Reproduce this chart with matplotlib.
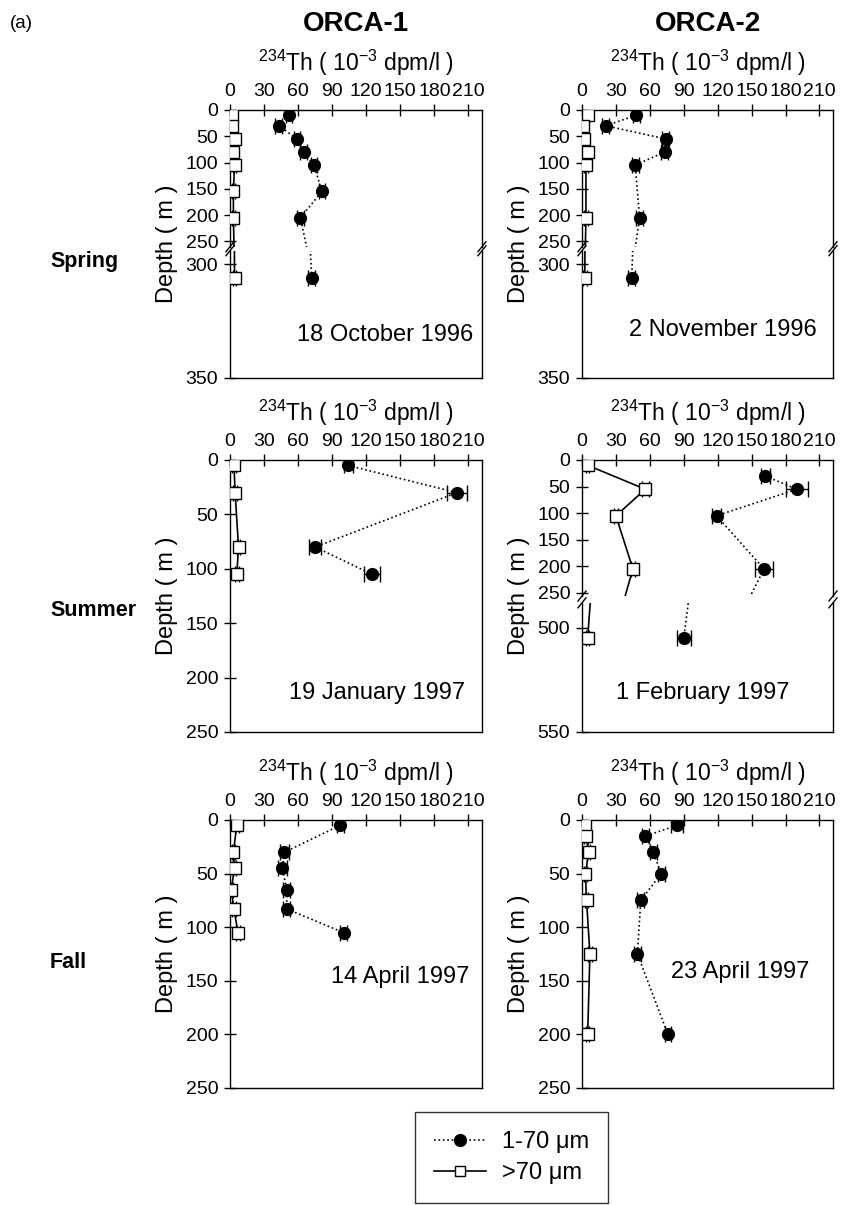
import matplotlib
matplotlib.use("Agg")
import matplotlib.pyplot as plt
from matplotlib.lines import Line2D

plt.rcParams["font.family"] = ["Liberation Sans", "DejaVu Sans"]
plt.rcParams["mathtext.fontset"] = "custom"
plt.rcParams["mathtext.rm"] = "Liberation Sans"
plt.rcParams["mathtext.it"] = "Liberation Sans:italic"
plt.rcParams["mathtext.bf"] = "Liberation Sans:bold"

# ---- data (234Th, 10^-3 dpm/l, vs depth in m) ----
cruises = ["ORCA-1", "ORCA-2"]
seasons = ["Spring", "Summer", "Fall"]
dates = ["18 October 1996", "2 November 1996",
         "19 January 1997", "1 February 1997",
         "14 April 1997", "23 April 1997"]
x_ticks = [0, 30, 60, 90, 120, 150, 180, 210]

spring1_fine_depth = [10, 30, 55, 80, 105, 155, 205, 306]
spring1_fine = [52, 43, 59, 65, 74, 81, 62, 72]
spring1_fine_err = [3, 3, 3, 3, 3, 3, 3, 3]
spring1_coarse_depth = [10, 30, 55, 80, 105, 155, 205, 306]
spring1_coarse = [2, 2, 4, 3, 4, 3, 3, 4]
spring1_coarse_err = [1.5, 1.5, 1.5, 1.5, 1.5, 1.5, 1.5, 1.5]

spring2_fine_depth = [10, 30, 55, 80, 105, 205, 306]
spring2_fine = [48, 21, 74, 73, 47, 51, 44]
spring2_fine_err = [3, 3, 3, 3, 3, 3, 3]
spring2_coarse_depth = [10, 30, 55, 80, 105, 205, 306]
spring2_coarse = [5, 1, 2, 5, 3.5, 3.5, 2.5]
spring2_coarse_err = [1.5, 1.5, 1.5, 1.5, 1.5, 1.5, 1.5]

summer1_fine_depth = [5, 30, 80, 105]
summer1_fine = [104, 200, 75, 125]
summer1_fine_err = [4, 9, 5, 7]
summer1_coarse_depth = [5, 30, 80, 105]
summer1_coarse = [3.5, 4.5, 7.5, 6]
summer1_coarse_err = [1.5, 1.5, 1.5, 1.5]

summer2_fine_depth = [30, 55, 105, 205, 505]
summer2_fine = [162, 190, 119, 161, 90]
summer2_fine_err = [4, 10, 4, 8, 6]
summer2_coarse_depth = [10, 55, 105, 205, 505]
summer2_coarse = [5, 56, 30, 45, 5]
summer2_coarse_err = [1.5, 3, 2, 2, 1.5]

fall1_fine_depth = [5, 30, 45, 65, 83, 105]
fall1_fine = [97, 48, 46, 50, 50, 100]
fall1_fine_err = [3, 4, 4, 3, 3, 3]
fall1_coarse_depth = [5, 30, 45, 65, 83, 105]
fall1_coarse = [6, 3, 4, 1, 3.5, 7]
fall1_coarse_err = [1.5, 1.5, 1.5, 1.5, 1.5, 1.5]

fall2_fine_depth = [5, 15, 30, 50, 75, 125, 200]
fall2_fine = [84, 56, 63, 70, 52, 49, 76]
fall2_fine_err = [5, 3, 3, 3, 3, 3, 3]
fall2_coarse_depth = [5, 15, 30, 50, 75, 125, 200]
fall2_coarse = [3, 3.5, 6, 3, 4, 7, 5]
fall2_coarse_err = [1.5, 1.5, 1.5, 1.5, 1.5, 1.5, 1.5]

panels = [
    (spring1_fine_depth, spring1_fine, spring1_fine_err,
     spring1_coarse_depth, spring1_coarse, spring1_coarse_err),
    (spring2_fine_depth, spring2_fine, spring2_fine_err,
     spring2_coarse_depth, spring2_coarse, spring2_coarse_err),
    (summer1_fine_depth, summer1_fine, summer1_fine_err,
     summer1_coarse_depth, summer1_coarse, summer1_coarse_err),
    (summer2_fine_depth, summer2_fine, summer2_fine_err,
     summer2_coarse_depth, summer2_coarse, summer2_coarse_err),
    (fall1_fine_depth, fall1_fine, fall1_fine_err,
     fall1_coarse_depth, fall1_coarse, fall1_coarse_err),
    (fall2_fine_depth, fall2_fine, fall2_fine_err,
     fall2_coarse_depth, fall2_coarse, fall2_coarse_err),
]

# depth axis per panel: (upper ylim, upper share, lower ylim, lower start, upper ticks, lower ticks)
spring_axis = ((260, 0), 0.51, (350, 294), 0.525, [0, 50, 100, 150, 200, 250], [300, 350])
plain_axis = ((250, 0), 1.0, None, None, [0, 50, 100, 150, 200, 250], None)
deep_axis = ((256, 0), 0.50, (550, 488), 0.525, [0, 50, 100, 150, 200, 250], [500, 550])
depth_axes = [spring_axis, spring_axis, plain_axis, deep_axis, plain_axis, plain_axis]

# ---- layout (pixels) ----
W, H = 843, 1205
col_left = [230, 582]
col_width = [252, 251]
ylabel_x = [167, 519]
row_top = [110, 460, 820]
row_height = [268, 272, 268]
date_xy = [(385, 335), (723, 330), (377, 693), (703, 693), (400, 977), (740, 972)]
row_label_y = [262, 611, 963]

fig = plt.figure(figsize=(W / 100, H / 100), dpi=100)


def rect(left, top, width, height):
    return [left / W, 1 - (top + height) / H, width / W, height / H]


def fx(x):
    return x / W


def fy(y):
    return 1 - y / H


def style(ax, top_labels):
    ax.set_xlim(0, 222)
    ax.xaxis.tick_top()
    if top_labels:
        ax.set_xticks(x_ticks)
    else:
        ax.set_xticks([])
    ax.tick_params(axis="both", direction="inout", length=8, width=1,
                   labelsize=14, colors="black")
    ax.tick_params(axis="x", pad=3)
    ax.tick_params(axis="y", pad=4.5)
    for s in ax.spines.values():
        s.set_linewidth(1)
        s.set_color("black")


def draw(ax, data):
    fd, fv, fe, cd, cv, ce = data
    ax.errorbar(cv, cd, xerr=ce, fmt="s-", color="black", mfc="white", mec="black",
                ms=8, mew=1, lw=1.2, elinewidth=1, capsize=5.5, zorder=3)
    ax.errorbar(fv, fd, xerr=fe, fmt="o:", color="black", ms=8.5, lw=1.2,
                elinewidth=1, capsize=5.5, zorder=4)


def slash(x, y):
    fig.add_artist(Line2D([fx(x - 4), fx(x + 4)], [fy(y + 5), fy(y - 5)],
                          color="black", lw=1, transform=fig.transFigure))


title = r"$^{234}$Th ( 10$^{-3}$ dpm/l )"

for i, data in enumerate(panels):
    r, c = divmod(i, 2)
    left, width = col_left[c], col_width[c]
    top, height = row_top[r], row_height[r]
    ulim, ushare, llim, lstart, uticks, lticks = depth_axes[i]

    ax = fig.add_axes(rect(left, top, width, height * ushare))
    style(ax, True)
    ax.set_ylim(*ulim)
    ax.set_yticks(uticks)
    draw(ax, data)

    if llim is not None:
        ax.spines["bottom"].set_visible(False)
        axl = fig.add_axes(rect(left, top + height * lstart, width, height * (1 - lstart)))
        style(axl, False)
        axl.set_ylim(*llim)
        axl.set_yticks(lticks)
        axl.spines["top"].set_visible(False)
        draw(axl, data)
        for xx in (left, left + width):
            slash(xx, top + height * ushare)
            slash(xx, top + height * lstart)

    fig.text(fx(left + width / 2), fy(top - 47), title, ha="center", va="center",
             fontsize=16.5)
    fig.text(fx(ylabel_x[c]), fy(top + height / 2), "Depth ( m )", rotation=90,
             ha="center", va="center", fontsize=17)
    dx, dy = date_xy[i]
    fig.text(fx(dx), fy(dy), dates[i], ha="center", va="center", fontsize=17)

for r, name in enumerate(seasons):
    fig.text(fx(50), fy(row_label_y[r]), name, ha="left", va="center",
             fontsize=15.5, fontweight="bold")

for c, name in enumerate(cruises):
    fig.text(fx(col_left[c] + col_width[c] / 2), fy(24), name, ha="center", va="center",
             fontsize=20, fontweight="bold")
fig.text(fx(10), fy(24), "(a)", ha="left", va="center", fontsize=13.5)

handles = [
    Line2D([], [], color="black", ls=":", lw=1.2, marker="o", ms=8.5),
    Line2D([], [], color="black", ls="-", lw=1.2, marker="s", ms=7, mfc="white", mec="black"),
]
leg = fig.legend(handles, ["1-70 \u03bcm", ">70 \u03bcm"], loc="upper center",
                 bbox_to_anchor=(fx(511.5), fy(1112)), frameon=True, fancybox=False,
                 edgecolor="black", fontsize=17, handlelength=2.2, handletextpad=0.65,
                 borderpad=0.8, labelspacing=0.4, numpoints=1, borderaxespad=0)
leg.get_frame().set_linewidth(1.0)

fig.savefig("out.png", dpi=100)
